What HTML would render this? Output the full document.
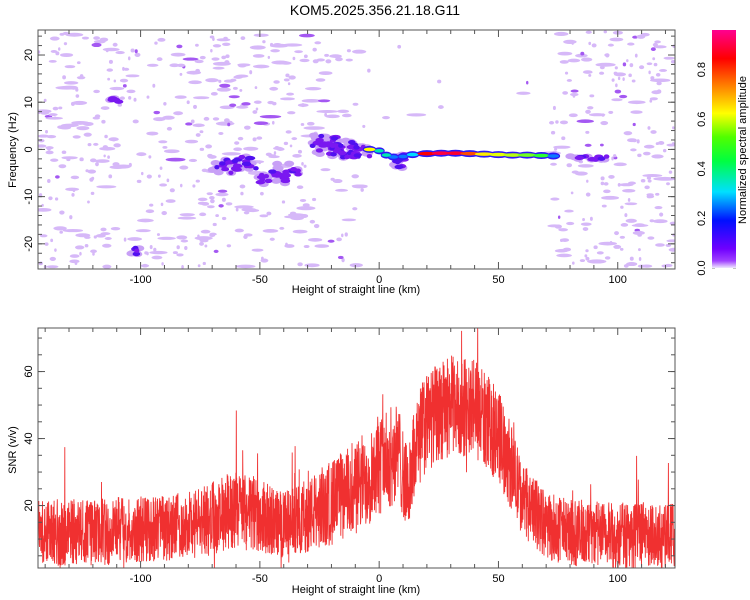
<!DOCTYPE html>
<html><head><meta charset="utf-8"><style>
body{margin:0;background:#fff;}
svg{display:block;font-family:"Liberation Sans",sans-serif;}
</style></head><body>
<svg id="c" width="750" height="600" viewBox="0 0 750 600">
<defs>
<linearGradient id="cb" x1="0" y1="1" x2="0" y2="0">
<stop offset="0" stop-color="#f0e8ff"/><stop offset="0.03" stop-color="#a040ff"/><stop offset="0.08" stop-color="#7000ff"/>
<stop offset="0.2" stop-color="#0010ff"/><stop offset="0.32" stop-color="#00e0ff"/><stop offset="0.45" stop-color="#00ff40"/>
<stop offset="0.55" stop-color="#50ff00"/><stop offset="0.65" stop-color="#ffff00"/><stop offset="0.78" stop-color="#ff7000"/>
<stop offset="0.88" stop-color="#ff0000"/><stop offset="1" stop-color="#ff0090"/></linearGradient>
<clipPath id="cp1"><rect x="38" y="30" width="637" height="239"/></clipPath>
<clipPath id="cp2"><rect x="38" y="328" width="637" height="240"/></clipPath>
</defs>
<text x="375" y="15" font-size="14" text-anchor="middle">KOM5.2025.356.21.18.G11</text>
<g id="heat" clip-path="url(#cp1)"></g>
<g id="snr" clip-path="url(#cp2)"></g>
<g id="axes"></g>
<rect x="712" y="30" width="24" height="238" fill="url(#cb)"/>
<text transform="translate(746,150) rotate(-90)" font-size="11" text-anchor="middle">Normalized spectral amplitude</text>
<text transform="translate(16,150) rotate(-90)" font-size="11" text-anchor="middle">Frequency (Hz)</text>
<text x="356" y="293" font-size="11" text-anchor="middle">Height of straight line (km)</text>
<text transform="translate(16,450) rotate(-90)" font-size="11" text-anchor="middle">SNR (v/v)</text>
<text x="356" y="593" font-size="11" text-anchor="middle">Height of straight line (km)</text>
</svg>
<script>
const xTicks=[-100,-50,0,50,100];
const fTicks=[-20,-10,0,10,20];
const snrTicks=[20,40,60];
const cbTicks=[0.0,0.2,0.4,0.6,0.8];
// purple clusters: centre km, centre freq, spread km, spread freq, dot count
const clKm=[-64,-55,-45,-38,-22,-14,-8,8,88,-112,-102];
const clF=[-3.5,-3,-6,-4.5,1,0,-0.5,-2.5,-1.8,10.5,-21.5];
const clSk=[6,4,6,5,6,6,4,3,8,3,3];
const clSf=[1.5,1.5,1.5,1.5,2,2,1.2,1.5,0.4,0.4,0.8];
const clN=[14,8,14,10,22,22,12,10,8,4,5];
// main signal blobs: [km, freq, widthKm, amplitude]
const blobKm=[-4,0,3,6,10,14,20,26,32,38,44,50,56,62,68,73];
const blobF=[0,-0.3,-1.2,-1.6,-1.5,-1.1,-0.9,-0.8,-0.8,-0.9,-1,-1.1,-1.2,-1.2,-1.3,-1.4];
const blobW=[4,3,3,3,3,4,7,7,7,7,7,7,7,7,6,4];
const blobA=[0.6,0.35,0.35,0.25,0.25,0.3,0.85,0.92,0.9,0.78,0.62,0.58,0.55,0.5,0.45,0.25];
// SNR envelope: km, mean, spread
const envKm=[-143,-120,-100,-80,-70,-60,-50,-40,-30,-20,-10,0,8,12,16,20,30,40,50,55,60,70,80,100,124];
const envMean=[12,12,13,14,16,19,17,14,17,21,25,32,36,24,40,45,50,49,41,32,22,14,12,11,11];
const envSpread=[10,10,10,10,11,12,11,10,11,13,14,15,15,12,15,15,15,15,14,13,11,10,10,10,10];

const NS='http://www.w3.org/2000/svg';
function mk(t,a,p){const e=document.createElementNS(NS,t);for(const k in a)e.setAttribute(k,a[k]);p.appendChild(e);return e;}
const X0=38,X1=675,KM0=-143,KM1=124;
const sx=k=>X0+(k-KM0)/(KM1-KM0)*(X1-X0);
const sy=f=>30+(25.3-f)*4.72;
const sy2=v=>328+(73-v)*3.35;
const cby=v=>268-v/0.96*238;
function cmap(a){const st=[[0,[216,184,248]],[0.06,[150,60,255]],[0.12,[100,0,255]],[0.2,[20,20,255]],[0.3,[0,220,255]],[0.42,[0,255,60]],[0.6,[255,255,0]],[0.75,[255,110,0]],[0.85,[255,0,0]],[1,[255,0,140]]];
for(let i=1;i<st.length;i++){if(a<=st[i][0]){const t=(a-st[i-1][0])/(st[i][0]-st[i-1][0]);const c=st[i-1][1].map((v,j)=>Math.round(v+(st[i][1][j]-v)*t));return`rgb(${c})`;}}return'rgb(255,0,140)';}
let seed=12345;const rnd=()=>{seed=(seed*1103515245+12345)%2147483648;return seed/2147483648;};
const heat=document.getElementById('heat');
// background speckles (decorative noise)
for(let i=0;i<1050;i++){
  const k=KM0+rnd()*(KM1-KM0);
  if(k>-8&&k<72&&rnd()<0.97)continue;
  if(k>-25&&k<-8&&rnd()<0.4)continue;
  const f=-25+rnd()*50;
  const dark=rnd()<0.06;
  const e=mk('ellipse',{cx:sx(k),cy:sy(f),rx:1.2+rnd()*rnd()*11,ry:1.4+rnd()*0.7,fill:dark?'#a458f2':'#d6b8f8'},heat);
  
  
}
// clusters
clKm.forEach((k,i)=>{
  for(let j=0;j<clN[i];j++){
    const kk=k+(rnd()-0.5)*2*clSk[i], ff=clF[i]+(rnd()-0.5)*2*clSf[i];
    const h=mk('ellipse',{cx:sx(kk),cy:sy(ff),rx:5,ry:3,fill:'#c8a0f6'},heat);
    
    
  }
});
clKm.forEach((k,i)=>{
  seed=1000+i*77;
  for(let j=0;j<clN[i];j++){
    const kk=k+(rnd()-0.5)*2*clSk[i], ff=clF[i]+(rnd()-0.5)*2*clSf[i];
    const d=mk('ellipse',{cx:sx(kk),cy:sy(ff),rx:2.5+rnd()*3,ry:2.2,fill:rnd()<0.3?'#5010f0':'#7a18f0'},heat);
    
    
  }
});
blobKm.forEach((k,i)=>{
  const o=mk('ellipse',{cx:sx(k),cy:sy(blobF[i]),rx:blobW[i]*2.4/2+2,ry:3.5,fill:'#3018f8'},heat);
  
  
});
blobKm.forEach((k,i)=>{
  const a=blobA[i];
  const e=mk('ellipse',{cx:sx(k),cy:sy(blobF[i]),rx:blobW[i]*2.4/2+1,ry:1.8,fill:cmap(a)},heat);
  
  
});
// SNR line
function interp(arr,k){for(let i=1;i<envKm.length;i++){if(k<=envKm[i]){const t=(k-envKm[i-1])/(envKm[i]-envKm[i-1]);return arr[i-1]+(arr[i]-arr[i-1])*t;}}return arr[arr.length-1];}
let pts=[];seed=777;
for(let i=0;i<=3000;i++){
  const k=KM0+i/3000*(KM1-KM0);
  let v=interp(envMean,k)+(rnd()-0.5)*2*interp(envSpread,k);
  if(rnd()<0.008)v+=12+rnd()*10;
  if(rnd()<0.006)v-=8;
  v=Math.max(1.5,v);
  pts.push(sx(k).toFixed(1)+','+sy2(v).toFixed(1));
}
const pl=mk('polyline',{points:pts.join(' '),fill:'none',stroke:'#f03030','stroke-width':0.9},document.getElementById('snr'));


// axes
const ax=document.getElementById('axes');
function frame(y0,y1,yt,ys,minor){
  mk('rect',{x:X0,y:y0,width:X1-X0,height:y1-y0,fill:'none',stroke:'#555','stroke-width':1},ax);
  for(let k=-140;k<=120;k+=10){const x=sx(k),L=k%50===0?7:4;
    mk('line',{x1:x,y1:y1,x2:x,y2:y1-L,stroke:'#555'},ax);mk('line',{x1:x,y1:y0,x2:x,y2:y0+L,stroke:'#555'},ax);}
  xTicks.forEach(k=>{const t=mk('text',{x:sx(k),y:y1+14,'font-size':11,'text-anchor':'middle'},ax);t.textContent=k;
    });
  minor.forEach(v=>{const y=ys(v);mk('line',{x1:X0,y1:y,x2:X0+4,y2:y,stroke:'#555'},ax);mk('line',{x1:X1,y1:y,x2:X1-4,y2:y,stroke:'#555'},ax);});
  yt.forEach(v=>{const y=ys(v);mk('line',{x1:X0,y1:y,x2:X0+7,y2:y,stroke:'#555'},ax);mk('line',{x1:X1,y1:y,x2:X1-7,y2:y,stroke:'#555'},ax);
    const t=mk('text',{transform:`translate(${X0-6},${y}) rotate(-90)`,'font-size':11,'text-anchor':'middle'},ax);t.textContent=v;
    });
}
const m1=[];for(let f=-24;f<=24;f+=2)m1.push(f);
const m2=[];for(let v=5;v<=70;v+=5)m2.push(v);
frame(30,269,fTicks,sy,m1);
frame(328,568,snrTicks,sy2,m2);
cbTicks.forEach(v=>{const y=cby(v);mk('line',{x1:712,y1:y,x2:715,y2:y,stroke:'#888'},ax);mk('line',{x1:733,y1:y,x2:736,y2:y,stroke:'#888'},ax);
  const t=mk('text',{transform:`translate(705,${y}) rotate(-90)`,'font-size':11,'text-anchor':'middle'},ax);t.textContent=v.toFixed(1);
  });
</script>
</body></html>
